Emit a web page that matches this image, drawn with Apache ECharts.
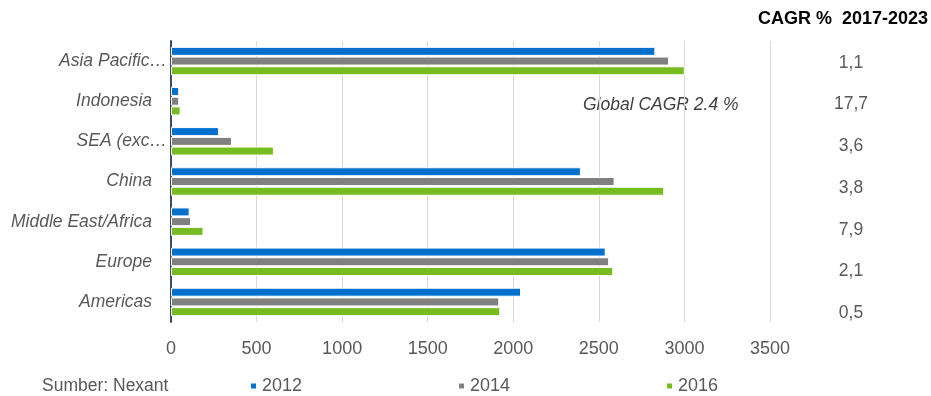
<!DOCTYPE html>
<html>
<head>
<meta charset="utf-8">
<script src="https://cdn.jsdelivr.net/npm/echarts@6/dist/echarts.min.js"></script>
<style>
  html, body { margin: 0; padding: 0; background: #fff; }
  #chart { width: 931px; height: 396px; }
</style>
</head>
<body>
<div id="chart"></div>
<script>
// Regional capacity by year, with CAGR 2017-2023 alongside each region
const regions = ['Asia Pacific…', 'Indonesia', 'SEA (exc…', 'China', 'Middle East/Africa', 'Europe', 'Americas'];
const years = ['2012', '2014', '2016'];
const values2012 = [2830, 48, 280, 2395, 109, 2540, 2045];
const values2014 = [2910, 48, 356, 2592, 117, 2560, 1918];
const values2016 = [3002, 56, 601, 2882, 190, 2584, 1924];
const cagr = ['1,1', '17,7', '3,6', '3,8', '7,9', '2,1', '0,5'];
const xTicks = [0, 500, 1000, 1500, 2000, 2500, 3000, 3500];

const colors = ['#0070CC', '#808080', '#76BC21'];
const sans = '"Liberation Sans", Arial, sans-serif';
const textGray = '#595959';

const chart = echarts.init(document.getElementById('chart'), null, { renderer: 'canvas' });

const seriesData = [values2012, values2014, values2016];

// Truncated names let their ellipsis hang past the right-aligned text edge
const regionItems = regions.map(name => name.endsWith('…')
  ? { value: name, textStyle: { padding: [0, -15, 0, 0] } }
  : name);

chart.setOption({
  animation: false,
  color: colors,
  grid: [
    { left: 171, right: 161, top: 41, bottom: 74, outerBoundsMode: 'none', containLabel: false },
    { left: 851, width: 10, top: 42, bottom: 62, outerBoundsMode: 'none', containLabel: false }
  ],
  legend: {
    data: years,
    left: 244,
    top: 372,
    icon: 'rect',
    itemWidth: 7,
    itemHeight: 7,
    itemGap: 155,
    textStyle: { fontFamily: sans, fontSize: 18, color: textGray }
  },
  xAxis: [
    {
      gridIndex: 0,
      type: 'value',
      min: xTicks[0],
      max: xTicks[xTicks.length - 1],
      interval: 500,
      axisLine: { show: false },
      axisTick: { show: false },
      splitLine: { show: true, lineStyle: { color: '#D9D9D9', width: 1 } },
      axisLabel: {
        fontFamily: sans, fontSize: 18, color: textGray, margin: 18,
        formatter: v => String(v)
      }
    },
    { gridIndex: 1, type: 'value', show: false }
  ],
  yAxis: [
    {
      gridIndex: 0,
      type: 'category',
      data: regionItems,
      inverse: true,
      axisLine: { show: true, lineStyle: { color: '#3D4B5C', width: 2 } },
      axisTick: { show: false },
      axisLabel: {
        fontFamily: sans,
        fontSize: 17.5,
        fontStyle: 'italic',
        color: textGray,
        margin: 19
      }
    },
    {
      gridIndex: 1,
      type: 'category',
      data: regions,
      inverse: true,
      axisLine: { show: false },
      axisTick: { show: false },
      axisLabel: {
        fontFamily: sans,
        fontSize: 17.5,
        color: textGray,
        margin: 0,
        align: 'center',
        formatter: (v, i) => cagr[i]
      }
    }
  ],
  series: years.map((y, k) => ({
    name: y,
    type: 'bar',
    xAxisIndex: 0,
    yAxisIndex: 0,
    data: seriesData[k],
    barWidth: 9,
    barGap: '8%',
    itemStyle: { color: colors[k], borderColor: '#ffffff', borderWidth: 1 }
  })),
  graphic: [
    {
      type: 'text',
      left: 758,
      top: 10,
      style: {
        text: 'CAGR %  2017-2023',
        font: 'bold 18px ' + sans,
        fill: '#000000'
      }
    },
    {
      type: 'text',
      left: 583,
      top: 96,
      style: {
        text: 'Global CAGR 2.4 %',
        font: 'italic 17.5px ' + sans,
        fill: '#404040'
      }
    },
    {
      type: 'text',
      left: 42,
      top: 377,
      style: {
        text: 'Sumber: Nexant',
        font: '17.5px ' + sans,
        fill: textGray
      }
    }
  ]
});
</script>
</body>
</html>
